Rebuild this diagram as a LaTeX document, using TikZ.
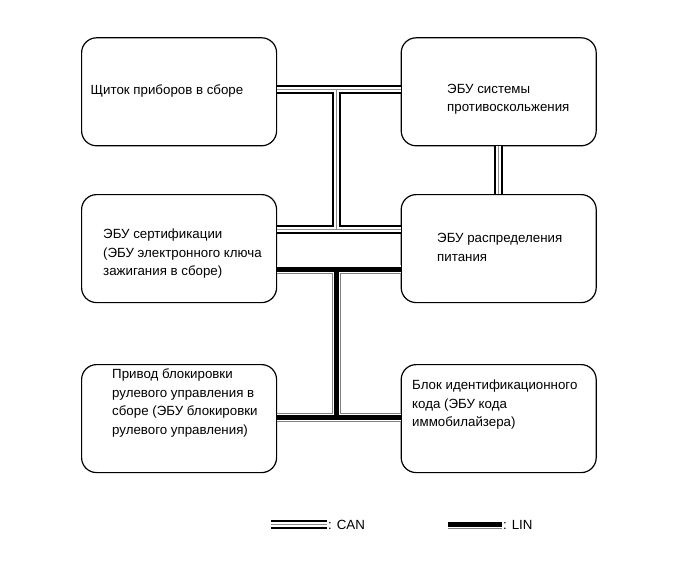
\documentclass[tikz,border=0pt]{standalone}
\usepackage{fontspec}
\setmainfont{Liberation Sans}
\begin{document}
\begin{tikzpicture}[x=1pt,y=-1pt,
  box/.style={draw=black, line width=1.2pt, rounded corners=15pt, minimum width=195pt, minimum height=108pt, inner sep=0pt},
  lbl/.style={anchor=west, align=left, inner sep=0pt, font=\fontsize{13.3pt}{18.5pt}\selectfont},
  canbus/.style={draw=black, line width=9pt, line cap=butt,
    postaction={draw=white, line width=5pt},
    postaction={draw=black!45, line width=0.8pt}},
  linbus/.style={draw=black!50, line width=9pt, line cap=butt,
    postaction={draw=white, line width=7.2pt},
    postaction={draw=black, line width=5pt}}]
\useasboundingbox (0,0) rectangle (690,562);
% boxes
\node[box] (b1) at (179.1,91.8) {};
\node[box] (b2) at (498.7,91.8) {};
\node[box] (b3) at (179.1,248.6) {};
\node[box] (b4) at (498.7,248.6) {};
\node[box] (b5) at (179.1,418.6) {};
\node[box] (b6) at (498.7,418.6) {};
% texts
\node[lbl] (t1) at (90.5,91.5) {Щиток приборов в сборе};
\node[lbl] (t2) at (447,99) {ЭБУ системы\\противоскольжения};
\node[lbl] (t3) at (103,254) {ЭБУ сертификации\\(ЭБУ электронного ключа\\зажигания в сборе)};
\node[lbl] (t4) at (437,247.5) {ЭБУ распределения\\питания};
\node[lbl] (t5) at (112,403) {Привод блокировки\\рулевого управления в\\сборе (ЭБУ блокировки\\рулевого управления)};
\node[lbl] (t6) at (412,405) {Блок идентификационного\\кода (ЭБУ кода\\иммобилайзера)};
% junction coordinates
\coordinate (ja) at (336.5,89.5);
\coordinate (jb) at (336.5,229);
\coordinate (jc) at (336.5,269);
\coordinate (jd) at (336.5,417.5);
% CAN bus
\path[canbus] (b1.east |- ja) -- (b2.west |- ja)
  (ja) -- (jb)
  (b3.east |- jb) -- (b4.west |- jb)
  (b2.south) -- (b4.north);
% LIN bus
\path[linbus] (b3.east |- jc) -- (b4.west |- jc)
  (jc) -- (jd)
  (b5.east |- jd) -- (b6.west |- jd);
% legend
\coordinate (lc1) at (271,524);
\coordinate (lc2) at (327,524);
\coordinate (ll1) at (448,524);
\coordinate (ll2) at (502,524);
\path[canbus] (lc1) -- (lc2);
\path[linbus] (ll1) -- (ll2);
\node[lbl, anchor=west] (lcan) at ([xshift=1pt,yshift=-1pt]lc2) {: CAN};
\node[lbl, anchor=west] (llin) at ([xshift=1pt,yshift=-1pt]ll2) {: LIN};
\end{tikzpicture}
\end{document}
